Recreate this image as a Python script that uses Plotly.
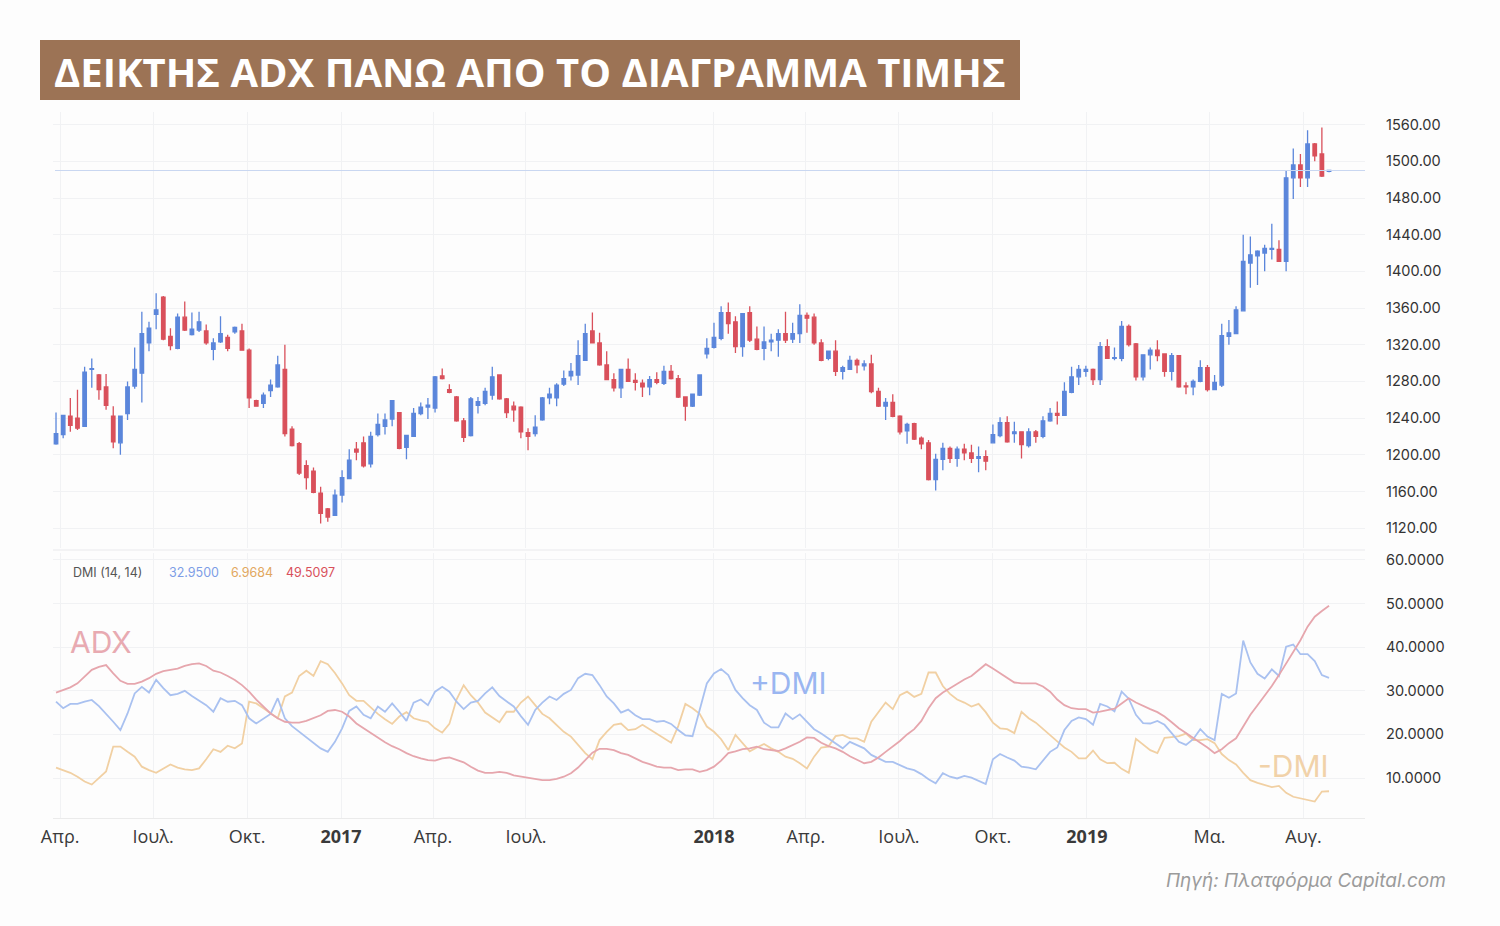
import pandas as pd
import plotly.graph_objects as go

# ---------------- data ----------------
dates = pd.date_range("2016-03-28", periods=179, freq="7D").strftime("%Y-%m-%d").tolist()

open_ = [1212, 1222, 1242, 1240, 1231, 1293, 1287, 1274, 1242, 1213,
         1245, 1275, 1289, 1322, 1353, 1372, 1329, 1316, 1350, 1331,
         1336, 1335, 1315, 1323, 1328, 1334, 1335, 1314, 1259, 1256,
         1270, 1274, 1293, 1228, 1212, 1188, 1182, 1158, 1141, 1134,
         1156, 1174, 1206, 1213, 1190, 1222, 1231, 1239, 1246, 1208,
         1220, 1245, 1252, 1251, 1286, 1271, 1263, 1237, 1221, 1254,
         1256, 1265, 1287, 1261, 1253, 1252, 1224, 1223, 1238, 1262,
         1262, 1277, 1286, 1287, 1303, 1335, 1322, 1298, 1282, 1273,
         1293, 1281, 1278, 1274, 1282, 1278, 1291, 1283, 1263, 1253,
         1265, 1310, 1317, 1327, 1355, 1345, 1318, 1355, 1326, 1316,
         1323, 1325, 1332, 1326, 1332, 1352, 1350, 1322, 1305, 1313,
         1291, 1293, 1303, 1297, 1299, 1269, 1253, 1257, 1242, 1226,
         1234, 1218, 1213, 1173, 1195, 1207, 1196, 1206, 1202, 1196,
         1198, 1213, 1221, 1235, 1223, 1225, 1210, 1225, 1220, 1237,
         1245, 1243, 1268, 1285, 1291, 1293, 1282, 1318, 1305, 1305,
         1340, 1321, 1285, 1309, 1314, 1310, 1291, 1308, 1275, 1274,
         1280, 1295, 1271, 1276, 1329, 1332, 1357, 1409, 1417, 1420,
         1424, 1424, 1411, 1502, 1516, 1502, 1539, 1528, 1509]

high = [1246, 1243, 1262, 1271, 1296, 1305, 1288, 1288, 1253, 1242,
        1280, 1317, 1356, 1345, 1376, 1373, 1338, 1354, 1367, 1355,
        1356, 1342, 1327, 1351, 1331, 1340, 1343, 1316, 1260, 1268,
        1282, 1308, 1320, 1231, 1214, 1194, 1186, 1165, 1142, 1162,
        1183, 1206, 1214, 1220, 1225, 1245, 1245, 1259, 1246, 1221,
        1251, 1257, 1262, 1286, 1294, 1277, 1264, 1240, 1263, 1263,
        1273, 1296, 1287, 1262, 1258, 1253, 1229, 1243, 1263, 1273,
        1278, 1292, 1300, 1325, 1343, 1355, 1333, 1313, 1289, 1293,
        1305, 1289, 1282, 1286, 1290, 1297, 1298, 1287, 1263, 1266,
        1287, 1327, 1344, 1362, 1366, 1351, 1354, 1362, 1340, 1340,
        1332, 1337, 1356, 1344, 1364, 1355, 1354, 1326, 1313, 1325,
        1297, 1308, 1305, 1303, 1309, 1273, 1262, 1266, 1243, 1235,
        1235, 1220, 1216, 1201, 1213, 1209, 1209, 1212, 1211, 1209,
        1205, 1233, 1241, 1242, 1236, 1225, 1229, 1227, 1242, 1251,
        1258, 1279, 1296, 1298, 1297, 1294, 1323, 1326, 1317, 1346,
        1342, 1322, 1309, 1317, 1325, 1310, 1311, 1308, 1279, 1282,
        1303, 1298, 1287, 1343, 1347, 1362, 1440, 1438, 1423, 1429,
        1452, 1434, 1510, 1534, 1528, 1554, 1540, 1557, 1510]

low = [1211, 1218, 1225, 1227, 1231, 1273, 1260, 1249, 1207, 1200,
       1238, 1272, 1257, 1313, 1337, 1325, 1314, 1315, 1335, 1330,
       1334, 1320, 1303, 1322, 1313, 1332, 1314, 1251, 1253, 1251,
       1263, 1273, 1220, 1209, 1178, 1162, 1158, 1125, 1127, 1134,
       1148, 1174, 1194, 1186, 1186, 1220, 1222, 1231, 1206, 1195,
       1220, 1243, 1239, 1246, 1282, 1267, 1236, 1214, 1220, 1245,
       1254, 1260, 1260, 1240, 1236, 1218, 1205, 1220, 1237, 1255,
       1253, 1275, 1281, 1276, 1303, 1322, 1297, 1282, 1269, 1262,
       1280, 1270, 1263, 1265, 1277, 1276, 1282, 1262, 1237, 1252,
       1264, 1305, 1316, 1325, 1332, 1311, 1307, 1323, 1314, 1303,
       1313, 1307, 1322, 1322, 1322, 1333, 1320, 1302, 1303, 1286,
       1282, 1293, 1289, 1292, 1267, 1252, 1238, 1241, 1222, 1212,
       1216, 1206, 1172, 1161, 1183, 1191, 1187, 1194, 1191, 1181,
       1183, 1213, 1219, 1213, 1213, 1196, 1208, 1213, 1218, 1236,
       1233, 1243, 1267, 1276, 1285, 1276, 1276, 1305, 1303, 1302,
       1318, 1281, 1281, 1293, 1302, 1285, 1281, 1273, 1266, 1265,
       1279, 1269, 1271, 1274, 1320, 1332, 1357, 1382, 1385, 1400,
       1413, 1411, 1400, 1479, 1492, 1492, 1520, 1503, 1508]

close = [1223, 1243, 1232, 1229, 1290, 1294, 1271, 1254, 1214, 1242,
         1274, 1293, 1332, 1338, 1358, 1326, 1319, 1350, 1336, 1337,
         1345, 1322, 1322, 1332, 1316, 1339, 1314, 1262, 1253, 1265,
         1276, 1298, 1223, 1210, 1180, 1175, 1159, 1136, 1132, 1156,
         1175, 1194, 1203, 1188, 1220, 1233, 1238, 1259, 1207, 1221,
         1245, 1252, 1254, 1285, 1283, 1268, 1237, 1219, 1261, 1258,
         1269, 1285, 1261, 1246, 1249, 1225, 1220, 1230, 1262, 1266,
         1276, 1283, 1291, 1308, 1332, 1322, 1298, 1282, 1273, 1293,
         1280, 1279, 1274, 1282, 1279, 1291, 1283, 1263, 1253, 1266,
         1287, 1316, 1328, 1355, 1343, 1318, 1354, 1325, 1315, 1323,
         1325, 1332, 1325, 1332, 1352, 1349, 1322, 1303, 1313, 1291,
         1295, 1303, 1298, 1299, 1269, 1253, 1257, 1242, 1225, 1233,
         1217, 1212, 1173, 1195, 1207, 1196, 1206, 1202, 1196, 1198,
         1193, 1222, 1235, 1214, 1225, 1211, 1225, 1220, 1237, 1245,
         1243, 1269, 1285, 1293, 1293, 1282, 1318, 1305, 1306, 1340,
         1320, 1285, 1309, 1314, 1308, 1291, 1308, 1274, 1274, 1280,
         1295, 1271, 1279, 1330, 1333, 1358, 1411, 1418, 1422, 1425,
         1425, 1411, 1502, 1516, 1502, 1539, 1526, 1504, 1510]

adx = [29.6, 30.2, 30.8, 31.7, 33.2, 34.8, 35.5, 35.9, 34.0, 32.3,
       31.6, 31.6, 32.1, 32.9, 33.9, 34.5, 34.8, 35.1, 35.7, 36.1,
       36.3, 35.7, 34.6, 34.2, 33.4, 32.5, 31.3, 29.8, 28.0, 26.4,
       24.8, 23.7, 22.9, 22.7, 22.7, 23.1, 23.7, 24.4, 25.4, 25.6,
       25.2, 24.1, 22.5, 21.4, 20.2, 19.3, 18.2, 17.3, 16.6, 15.7,
       15.0, 14.5, 14.1, 14.0, 14.5, 14.7, 14.1, 13.6, 12.6, 11.7,
       11.2, 11.2, 11.4, 11.2, 10.6, 10.3, 10.1, 9.7, 9.5, 9.5,
       9.8, 10.3, 11.1, 12.4, 14.0, 15.8, 16.7, 16.7, 16.4, 15.7,
       15.3, 14.5, 13.7, 13.2, 12.6, 12.4, 12.4, 11.8, 12.0, 12.0,
       11.4, 11.8, 12.6, 14.0, 15.7, 16.1, 16.6, 16.8, 17.2, 16.6,
       16.4, 16.2, 16.8, 17.6, 18.3, 19.3, 19.2, 18.1, 17.3, 16.8,
       16.0, 15.0, 14.1, 13.4, 13.7, 14.7, 16.0, 17.2, 18.5, 20.0,
       21.2, 23.1, 26.0, 28.3, 29.6, 30.6, 31.7, 32.6, 33.4, 34.8,
       36.1, 35.1, 34.0, 32.9, 31.9, 31.7, 31.7, 31.7, 31.0, 29.8,
       28.0, 26.7, 26.0, 25.8, 25.8, 25.0, 25.2, 25.6, 25.9, 27.1,
       28.3, 27.3, 26.5, 25.8, 25.1, 24.1, 22.8, 21.4, 20.3, 19.1,
       18.1, 17.0, 15.7, 16.6, 18.0, 19.1, 21.8, 24.5, 26.7, 28.8,
       31.1, 33.6, 36.3, 39.0, 41.6, 44.7, 47.0, 48.3, 49.5097]

dmi_plus = [27.5, 26.0, 27.0, 27.0, 27.5, 27.9, 26.5, 24.8, 22.9, 21.0,
            24.8, 29.4, 30.9, 29.6, 32.5, 30.6, 29.0, 29.3, 30.0, 28.8,
            27.7, 26.7, 25.2, 28.3, 27.5, 27.7, 26.7, 23.7, 22.5, 23.7,
            24.7, 28.3, 23.7, 21.9, 20.6, 19.2, 18.0, 16.8, 16.0, 18.3,
            21.4, 25.4, 26.4, 24.5, 23.7, 26.4, 25.2, 27.1, 25.2, 23.1,
            27.3, 28.0, 26.7, 29.8, 30.9, 29.8, 27.5, 25.8, 27.3, 27.7,
            29.4, 30.8, 28.8, 27.7, 26.4, 24.2, 22.2, 25.6, 27.3, 28.7,
            27.9, 29.3, 30.2, 32.9, 33.9, 33.6, 31.3, 28.7, 27.1, 25.0,
            25.7, 24.4, 23.5, 23.5, 22.9, 23.1, 22.4, 21.0, 19.8, 19.6,
            25.6, 31.7, 34.0, 35.0, 33.6, 30.2, 28.3, 26.7, 25.6, 22.7,
            21.6, 21.6, 24.8, 23.5, 24.6, 22.9, 21.2, 20.2, 19.1, 18.0,
            16.8, 18.3, 17.6, 16.8, 15.3, 14.5, 13.7, 13.7, 13.0, 12.2,
            11.8, 10.9, 9.7, 8.8, 11.1, 10.3, 9.9, 10.5, 10.1, 9.4,
            8.6, 14.3, 15.5, 14.7, 14.0, 12.6, 12.4, 12.0, 14.0, 16.0,
            17.0, 21.0, 23.1, 23.9, 23.5, 22.2, 27.0, 26.4, 25.3, 29.8,
            28.2, 24.5, 22.6, 22.5, 23.1, 22.2, 20.3, 18.3, 17.6, 18.9,
            21.2, 19.5, 18.7, 29.3, 28.4, 29.4, 41.5, 36.5, 33.9, 32.8,
            34.9, 33.4, 40.1, 40.6, 38.4, 38.4, 36.8, 33.6, 32.95]

dmi_minus = [12.4, 11.8, 11.2, 10.3, 9.2, 8.5, 9.9, 11.5, 17.2, 17.2,
             16.0, 14.9, 12.6, 11.8, 11.2, 12.2, 13.1, 12.4, 12.0, 11.8,
             12.2, 14.3, 16.6, 16.0, 17.4, 16.8, 17.9, 27.5, 27.1, 26.0,
             24.8, 23.7, 28.7, 29.6, 33.4, 34.6, 33.4, 36.8, 36.1, 34.1,
             31.7, 29.0, 27.7, 27.7, 26.2, 24.7, 23.5, 22.4, 24.1, 25.1,
             23.7, 23.2, 22.9, 21.4, 20.4, 22.4, 28.0, 31.3, 29.0, 27.3,
             25.0, 23.8, 22.8, 25.2, 25.2, 27.3, 28.7, 26.7, 24.7, 23.7,
             22.2, 20.6, 19.5, 17.7, 15.7, 14.3, 18.7, 20.6, 22.2, 22.5,
             21.0, 21.2, 22.2, 21.2, 20.1, 19.1, 18.1, 21.9, 27.0, 26.0,
             24.7, 21.8, 20.6, 18.9, 16.4, 19.9, 18.1, 16.1, 17.0, 17.8,
             16.8, 16.0, 14.9, 14.4, 13.4, 12.2, 14.9, 17.0, 17.2, 19.6,
             19.9, 19.1, 19.1, 18.3, 22.9, 25.2, 27.3, 25.8, 29.0, 29.8,
             28.6, 29.3, 34.2, 34.2, 31.1, 29.3, 28.0, 27.3, 26.4, 27.0,
             25.1, 22.7, 21.4, 21.2, 20.3, 25.2, 23.7, 22.7, 21.2, 19.9,
             18.4, 17.0, 16.0, 14.5, 14.5, 16.3, 14.3, 13.4, 13.5, 12.1,
             11.2, 19.0, 17.6, 16.4, 15.7, 19.2, 19.4, 19.6, 20.2, 18.7,
             18.7, 18.9, 18.0, 15.5, 14.1, 13.1, 11.2, 9.5, 8.9, 8.4,
             7.9, 8.2, 6.6, 5.7, 5.3, 5.0, 4.6, 6.9, 6.9684]

month_ticks = ["2016-04-01", "2016-07-01", "2016-10-01", "2017-01-01", "2017-04-01",
               "2017-07-01", "2018-01-01", "2018-04-01", "2018-07-01", "2018-10-01",
               "2019-01-01", "2019-05-01", "2019-08-01"]
month_labels = ["Απρ.", "Ιουλ.", "Οκτ.", "<b>2017</b>", "Απρ.", "Ιουλ.", "<b>2018</b>",
                "Απρ.", "Ιουλ.", "Οκτ.", "<b>2019</b>", "Μα.", "Αυγ."]

price_tick_vals = [1120, 1160, 1200, 1240, 1280, 1320, 1360, 1400, 1440, 1480, 1520, 1560]
price_tick_text = ["1120.00", "1160.00", "1200.00", "1240.00", "1280.00", "1320.00",
                   "1360.00", "1400.00", "1440.00", "1480.00", "1500.00", "1560.00"]
dmi_tick_vals = [10, 20, 30, 40, 50, 60]
dmi_tick_text = ["10.0000", "20.0000", "30.0000", "40.0000", "50.0000", "60.0000"]

# ---------------- styling ----------------
W, H = 1500, 926
ML, MR, MT, MB = 53, 135, 112, 108
PW, PH = W - ML - MR, H - MT - MB


def fx(px):
    return (px - ML) / PW


def fy(py):
    return (H - MB - py) / PH


BLUE = "#5b86db"
RED = "#d9505b"
C_PLUS = "#a9c1f0"
C_MINUS = "#f1d0a3"
C_ADX = "#e6a6ad"
GRID = "#f1f2f4"
FONT = "Inter, Lato, sans-serif"

fig = go.Figure()

fig.add_trace(go.Candlestick(
    x=dates, open=open_, high=high, low=low, close=close,
    increasing=dict(line=dict(color=BLUE, width=1.3), fillcolor=BLUE),
    decreasing=dict(line=dict(color=RED, width=1.3), fillcolor=RED),
    whiskerwidth=0, xaxis="x", yaxis="y", showlegend=False, name="XAU"))

for vals, col, nm in [(dmi_minus, C_MINUS, "-DMI"), (dmi_plus, C_PLUS, "+DMI"), (adx, C_ADX, "ADX")]:
    fig.add_trace(go.Scatter(x=dates, y=vals, mode="lines", line=dict(color=col, width=1.8),
                             xaxis="x", yaxis="y2", showlegend=False, name=nm))

fig.update_layout(
    width=W, height=H,
    margin=dict(l=ML, r=MR, t=MT, b=MB),
    paper_bgcolor="#fdfdfd", plot_bgcolor="#fdfdfd",
    font=dict(family=FONT, color="#333333"),
    xaxis=dict(
        anchor="y2", range=["2016-03-25 01:00", "2019-09-30 05:00"],
        tickvals=month_ticks, ticktext=month_labels,
        tickfont=dict(size=18, color="#3a3a3a", family="Open Sans, sans-serif"),
        ticks="", ticklabelstandoff=2,
        showgrid=True, gridcolor=GRID, gridwidth=1,
        showline=True, linecolor="#ebebeb", linewidth=1,
        zeroline=False, rangeslider=dict(visible=False),
    ),
    yaxis=dict(
        domain=[fy(548), 1.0], range=[1098.3, 1573.8], side="right",
        tickvals=price_tick_vals, ticktext=price_tick_text,
        tickfont=dict(size=14.5, color="#333333", family=FONT),
        ticks="", ticklabelstandoff=20,
        showgrid=True, gridcolor=GRID, zeroline=False, showline=False,
    ),
    yaxis2=dict(
        domain=[0.0, fy(553)], range=[0.83, 61.6], side="right",
        tickvals=dmi_tick_vals, ticktext=dmi_tick_text,
        tickfont=dict(size=14.5, color="#333333", family=FONT),
        ticks="", ticklabelstandoff=20,
        showgrid=True, gridcolor=GRID, zeroline=False, showline=False,
    ),
)

shapes = [
    # title box
    dict(type="rect", xref="paper", yref="paper", x0=fx(40), x1=fx(1020), y0=fy(100), y1=fy(40),
         fillcolor="#9c7355", line=dict(width=0), layer="above"),
    # separator between panes
    dict(type="line", xref="paper", yref="paper", x0=0, x1=1, y0=fy(550), y1=fy(550),
         line=dict(color="#e9e9ec", width=1)),
    # last price line
    dict(type="line", xref="paper", yref="y", x0=fx(55), x1=1, y0=close[-1], y1=close[-1],
         line=dict(color="#c9d7f1", width=1)),
]
fig.update_layout(shapes=shapes)

annotations = [
    dict(text="ΔΕΙΚΤΗΣ ADX ΠΑΝΩ ΑΠΟ ΤΟ ΔΙΑΓΡΑΜΜΑ ΤΙΜΗΣ", xref="paper", yref="paper",
         x=fx(530), y=fy(71), xanchor="center", yanchor="middle", showarrow=False,
         font=dict(family="Open Sans, sans-serif", size=40, color="#ffffff", weight="bold")),
    dict(text="DMI (14, 14)", xref="paper", yref="paper", x=fx(71), y=fy(572),
         xanchor="left", yanchor="middle", showarrow=False, font=dict(size=12.5, color="#555555")),
    dict(text="32.9500", xref="paper", yref="paper", x=fx(167), y=fy(572),
         xanchor="left", yanchor="middle", showarrow=False, font=dict(size=12.5, color="#7d9de6")),
    dict(text="6.9684", xref="paper", yref="paper", x=fx(229), y=fy(572),
         xanchor="left", yanchor="middle", showarrow=False, font=dict(size=12.5, color="#e2a85f")),
    dict(text="49.5097", xref="paper", yref="paper", x=fx(284), y=fy(572),
         xanchor="left", yanchor="middle", showarrow=False, font=dict(size=12.5, color="#d9505b")),
    dict(text="ADX", xref="paper", yref="paper", x=fx(68), y=fy(642),
         xanchor="left", yanchor="middle", showarrow=False, font=dict(size=30, color="#e8aab1")),
    dict(text="+DMI", xref="paper", yref="paper", x=fx(748), y=fy(683),
         xanchor="left", yanchor="middle", showarrow=False, font=dict(size=30, color="#9ab6f1")),
    dict(text="-DMI", xref="paper", yref="paper", x=fx(1256), y=fy(766),
         xanchor="left", yanchor="middle", showarrow=False, font=dict(size=30, color="#f1d2a9")),
    dict(text="<i>Πηγή: Πλατφόρμα Capital.com</i>", xref="paper", yref="paper", x=fx(1448), y=fy(880),
         xanchor="right", yanchor="middle", showarrow=False, font=dict(size=19, color="#9b9b9b")),
]
fig.update_layout(annotations=annotations)

fig.write_html("out.html")
